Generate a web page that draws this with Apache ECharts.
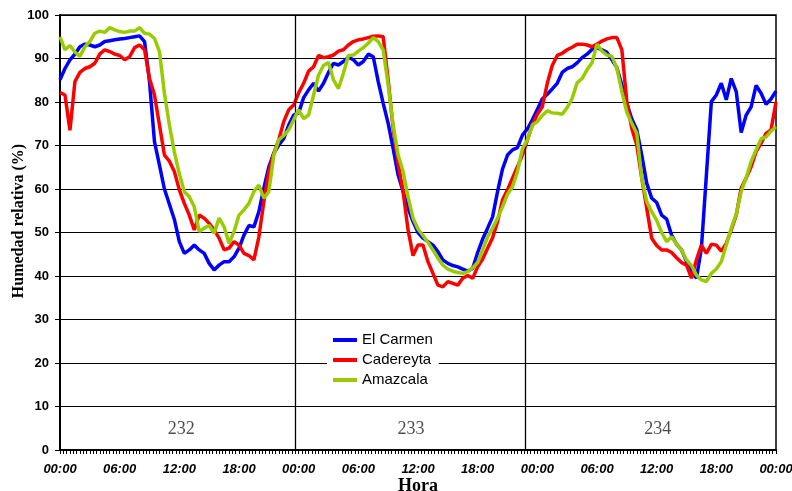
<!DOCTYPE html>
<html><head><meta charset="utf-8">
<script src="https://cdn.jsdelivr.net/npm/echarts@6/dist/echarts.min.js"></script>
<style>html,body{margin:0;padding:0;background:#fff}#c{width:792px;height:491px}</style>
</head><body><div id="c"></div>
<script>
// Half-hourly readings, 0h .. 72h (3 days)
const stepHours = 0.5;
const elCarmen = [
  85.1, 87.7, 89.7, 91, 92.7, 93.3, 93.1, 92.7, 93.1, 93.9, 94.1, 94.3,
  94.5, 94.6, 94.8, 95, 95.2, 93.9, 84.7, 70.9, 65.5, 60, 56.5, 53,
  47.9, 45.2, 46, 47.1, 46, 45.2, 42.9, 41.4, 42.5, 43.3, 43.3, 44.4,
  46.4, 49.4, 51.6, 51.3, 54.8, 60.2, 65.1, 68.2, 70.1, 71.6, 74.7, 77,
  77.5, 81, 82.8, 84.3, 82.5, 84.3, 86.8, 88.9, 88.5, 89.3, 90.3, 89.7,
  88.5, 89.3, 91, 90.4, 84.7, 79.7, 75.1, 69.3, 63.2, 59.4, 55.6, 52.5,
  50, 48.7, 47.9, 47.1, 45.6, 43.7, 42.9, 42.4, 42.1, 41.6, 41.1, 41.8,
  45.4, 48.5, 51, 53.6, 59.4, 64.6, 67.8, 69, 69.5, 72.4, 73.8, 75.9,
  78.3, 80.7, 81.8, 83, 84.3, 86.8, 87.7, 88.1, 89, 90.2, 91, 92.1,
  92.5, 92, 91.4, 89.7, 87.9, 83.9, 79.7, 76.1, 73.6, 67.8, 61.3, 57.9,
  56.9, 54, 53.1, 49.4, 47.3, 46, 43.3, 41, 39.5, 46.4, 63.2, 80.1,
  81.6, 84.3, 80.5, 85.4, 82.4, 73, 77, 78.9, 83.8, 82, 79.5, 80.7,
  82.5
];
const cadereyta = [
  82.2, 81.6, 73.5, 84.7, 86.8, 87.7, 88.1, 88.9, 91, 92, 91.6, 91,
  90.7, 89.7, 90.4, 92.5, 93.1, 92, 85.4, 81.6, 74.7, 67.8, 66.4, 64,
  59.8, 56.7, 54, 50.6, 54, 53.3, 52.1, 50.6, 48.7, 46, 46.4, 47.9,
  47.1, 45.2, 44.7, 43.7, 49, 57.1, 64, 68.2, 71.3, 75.5, 78.2, 79.3,
  82.1, 84.3, 87.1, 88.1, 90.7, 90.2, 90.4, 90.8, 91.7, 92, 93.1, 93.9,
  94.3, 94.5, 94.8, 95.1, 95.2, 95, 85, 73.9, 65.9, 59.4, 50.6, 44.7,
  47.1, 47.1, 43.3, 40.6, 37.9, 37.5, 38.7, 38.3, 37.9, 39.5, 40.1, 39.5,
  42.1, 43.9, 46.4, 48.8, 52.5, 57.5, 59.8, 62.5, 65.1, 67.8, 71.3, 74.7,
  77.2, 78.9, 84.3, 88.4, 90.7, 91.2, 92, 92.6, 93.3, 93.3, 93.1, 92.7,
  93.3, 94, 94.5, 94.8, 94.8, 92, 80, 73.9, 70.1, 62.5, 55.6, 48.7,
  47, 46, 46, 45.4, 44.2, 43.1, 42.5, 39.5, 43.7, 47.1, 45.2, 47.3,
  47.1, 45.7, 47.5, 50.6, 54, 60.2, 62.5, 65.1, 68.6, 70.5, 72.8, 73.6,
  80
];
const amazcala = [
  95, 92, 93, 91.5, 90.5, 92.7, 93.9, 95.8, 96.3, 96, 97.1, 96.6,
  96.2, 96, 96.3, 96.3, 97.1, 95.8, 95.6, 94.6, 91.6, 82, 74.7, 68.5,
  63.5, 59.4, 58.2, 55.9, 50.2, 51, 51.6, 49.8, 53.3, 51.3, 47.5, 50.2,
  54, 55.2, 56.7, 59.4, 60.9, 57.9, 59.4, 67.8, 71.3, 72.3, 73.6, 75.9,
  78.2, 76.2, 77, 81.6, 86.2, 88.4, 89.1, 85.1, 83.1, 86.6, 90.7, 90.8,
  91.7, 92.5, 93.5, 94.8, 93.9, 92, 83.9, 74.7, 67.8, 64, 58.2, 53.3,
  50.8, 49.3, 47.7, 46, 44.1, 42.5, 41.6, 41.1, 40.8, 40.6, 41, 41.9,
  43.1, 46, 49, 51, 53.3, 55.9, 58.8, 60.5, 64, 69.3, 71.3, 74.7,
  75.5, 76.9, 78, 77.5, 77.4, 77.2, 78.7, 80.8, 84.4, 85.4, 87.4, 89,
  93.3, 91.7, 90.8, 90.5, 87.7, 82.4, 77.6, 75.1, 72.8, 62.5, 57.1, 54.8,
  52.8, 50, 47.9, 49, 47.3, 46, 43.7, 42.4, 40.2, 39.1, 38.7, 40.6,
  41.6, 43.3, 47.1, 51, 54.2, 59.4, 62.6, 66.3, 69, 71.5, 72, 73.3,
  74.3
];
const seriesNames = ['El Carmen', 'Cadereyta', 'Amazcala'];
const seriesColors = ['#0000ff', '#ff0000', '#99cc00'];
const dayNames = ['232', '233', '234'];
const dayLabelHours = [12.2, 35.3, 60.1];
const dayLabelLevel = 4.8;
const dayBoundaryHours = [23.7, 46.8];
const xTickHours = [0, 6, 12, 18, 24, 30, 36, 42, 48, 54, 60, 66, 72];
const xTickLabels = ['00:00','06:00','12:00','18:00','00:00','06:00','12:00','18:00','00:00','06:00','12:00','18:00','00:00'];

const toPairs = arr => arr.map((v, i) => [i * stepHours, v]);
const allValues = [elCarmen, cadereyta, amazcala];

const chart = echarts.init(document.getElementById('c'), null, {renderer: 'canvas'});
const sans = '"Liberation Sans", Arial, sans-serif';
const serif = '"Liberation Serif", "Times New Roman", serif';

const lineSeries = allValues.map((vals, k) => ({
  name: seriesNames[k],
  type: 'line',
  data: toPairs(vals),
  symbol: 'none',
  smooth: false,
  z: 3 + k,
  color: seriesColors[k],
  lineStyle: {color: seriesColors[k], width: 3.5},
  silent: true
}));
lineSeries[0].markLine = {
  silent: true,
  symbol: ['none', 'none'],
  label: {show: false},
  lineStyle: {color: '#000', width: 1.3, type: 'solid'},
  data: dayBoundaryHours.map(h => ({xAxis: h}))
};

chart.setOption({
  animation: false,
  backgroundColor: '#fff',
  grid: {left: 60, right: 16, top: 15, bottom: 41, show: true, borderColor: '#000', borderWidth: 1.5,
         outerBoundsMode: 'none', containLabel: false},
  legend: {
    data: seriesNames,
    orient: 'vertical',
    left: 327, top: 328,
    backgroundColor: '#fff',
    padding: [4, 6, 4, 6],
    icon: 'rect',
    itemWidth: 24, itemHeight: 4, itemGap: 4,
    textStyle: {fontFamily: sans, fontSize: 15, color: '#000', lineHeight: 16}
  },
  xAxis: {
    type: 'value', min: 0, max: 72, interval: 6,
    name: 'Hora', nameLocation: 'middle', nameGap: 27, nameMoveOverlap: false,
    nameTextStyle: {fontFamily: serif, fontWeight: 'bold', fontSize: 18, color: '#000'},
    axisLine: {show: true, onZero: false, lineStyle: {color: '#000', width: 2}},
    axisTick: {show: true, length: 4, lineStyle: {color: '#000', width: 1}},
    minorTick: {show: true, splitNumber: 18, length: 4, lineStyle: {color: '#000', width: 1}},
    splitLine: {show: false},
    axisLabel: {
      margin: 13, fontFamily: sans, fontSize: 13, fontWeight: 'bold', fontStyle: 'italic', color: '#000',
      formatter: v => { const i = xTickHours.indexOf(v); return i >= 0 ? xTickLabels[i] : ''; }
    }
  },
  yAxis: {
    type: 'value', min: 0, max: 100, interval: 10,
    axisLine: {show: true, lineStyle: {color: '#000', width: 2}},
    axisTick: {show: true, length: 5, lineStyle: {color: '#000', width: 1}},
    splitLine: {show: true, lineStyle: {color: '#000', width: 1.1}},
    axisLabel: {margin: 11, fontFamily: sans, fontSize: 13, fontWeight: 'bold', color: '#000'}
  },
  graphic: [{
    type: 'text', x: 19, y: 221, rotation: Math.PI / 2,
    style: {text: 'Humedad relativa (%)', font: 'bold 16px ' + serif, fill: '#000', align: 'center', verticalAlign: 'middle'}
  }],
  series: lineSeries.concat([{
    name: 'days',
    type: 'scatter',
    silent: true,
    symbolSize: 0,
    data: dayLabelHours.map((h, i) => [h, dayLabelLevel]),
    label: {
      show: true, position: 'inside',
      formatter: p => dayNames[p.dataIndex],
      fontFamily: serif, fontSize: 18, color: '#222'
    },
    z: 2
  }])
});
</script>
</body></html>
